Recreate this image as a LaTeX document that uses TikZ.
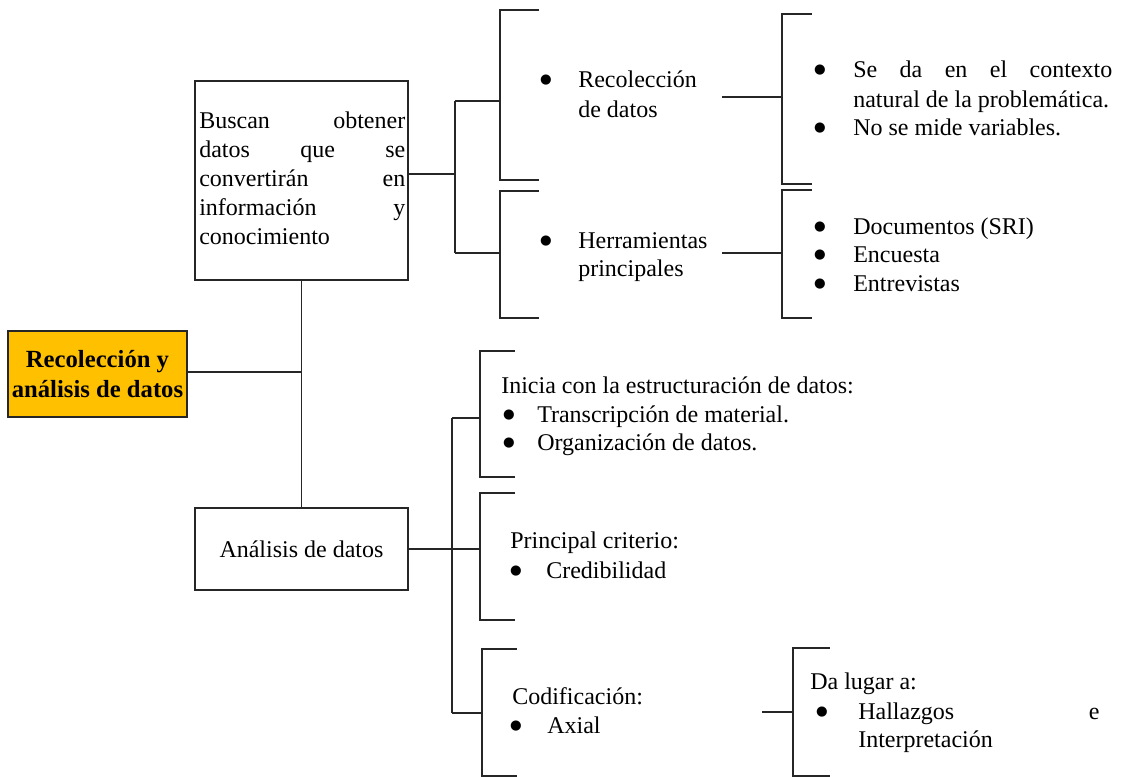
\documentclass[tikz,border=0pt]{standalone}
\usepackage{fontspec}
\setmainfont{Liberation Serif}
\newfontfamily\dotfont{DejaVu Sans}
\newcommand\bigdot{\raisebox{3pt}{\dotfont\fontsize{10}{12}\selectfont ●}}
\begin{document}
\begin{tikzpicture}[x=0.75pt,y=-0.75pt,
  line/.style={draw=black!85,line width=0.9pt},
  txt/.style={font=\fontsize{18}{21}\selectfont,inner sep=0pt,anchor=base west},
  bul/.style={txt,anchor=base},
  box/.style={draw=black!85,line width=0.9pt,inner sep=0pt,font=\fontsize{18}{21}\selectfont}]
\useasboundingbox (0,0) rectangle (1123,776);
% main title box
\node[box,fill={rgb,255:red,255;green,192;blue,0},minimum width=134.25pt,minimum height=64.5pt,
  font=\fontsize{18.5}{22.5}\selectfont\bfseries,align=center] (title) at (97.5,374) {Recolección y\\análisis de datos};
% upper description box
\node[box,minimum width=159.75pt,minimum height=149.25pt] (top) at (301.5,180.5) {};
\foreach \n/\y/\a/\b in {t1/128/Buscan/obtener,t3/186/convertirán/en,t4/215/información/y}
  \node[txt] (\n) at (199,\y) {\makebox[154.5pt][l]{\a\hfill\b}};
\node[txt] (t2) at (199,157) {\makebox[154.5pt][l]{datos\hfill que\hfill se}};
\node[txt] (t5) at (199,244) {conocimiento};
% lower description box
\node[box,minimum width=159.75pt,minimum height=61.5pt] (bot) at (301.5,549) {Análisis de datos};

% trunk
\coordinate (trunk) at (301.5,372);
\draw[line] (title.east |- trunk) -- (trunk);
\draw[line] (top.south) -- (bot.north);

% ---- upper branch ----
\coordinate (topout) at (top.east |- 0,174);
\coordinate (fork1) at (455,174);
\draw[line] (topout) -- (fork1);
\draw[line] (455,101) -- (455,253);
\draw[line] (455,101) -- (500,101);
\draw[line] (455,253) -- (500,253);
% brackets
\draw[line] (539,10) -- (500,10) -- (500,180) -- (539,180);
\draw[line] (539,191) -- (500,191) -- (500,318) -- (539,318);
\draw[line] (812,14) -- (782,14) -- (782,184) -- (812,184);
\draw[line] (812,190) -- (782,190) -- (782,318) -- (812,318);
\draw[line] (722,97) -- (782,97);
\draw[line] (722,253) -- (782,253);

\node[bul] (b1) at (546,87) {\bigdot};
\node[txt] (r1) at (578,87) {Recolección};
\node[txt] (r2) at (578,117) {de datos};
\node[bul] (b2) at (546,248) {\bigdot};
\node[txt] (h1) at (578,248) {Herramientas};
\node[txt] (h2) at (578,276) {principales};

\node[bul] (b3) at (820,77) {\bigdot};
\node[txt] (s1) at (853,77) {\makebox[194.25pt][l]{Se\hfill da\hfill en\hfill el\hfill contexto}};
\node[txt] (s2) at (853,107) {natural de la problemática.};
\node[bul] (b4) at (820,135) {\bigdot};
\node[txt] (s3) at (853,135) {No se mide variables.};
\node[bul] (b5) at (820,234) {\bigdot};
\node[txt] (d1) at (853,234) {Documentos (SRI)};
\node[bul] (b6) at (820,262) {\bigdot};
\node[txt] (d2) at (853,262) {Encuesta};
\node[bul] (b7) at (820,291) {\bigdot};
\node[txt] (d3) at (853,291) {Entrevistas};

% ---- lower branch ----
\draw[line] (bot.east) -- (480,549);
\draw[line] (452,418) -- (452,713);
\draw[line] (452,418) -- (480,418);
\draw[line] (452,713) -- (482,713);
\draw[line] (515,351) -- (480,351) -- (480,477) -- (515,477);
\draw[line] (515,493) -- (480,493) -- (480,620) -- (515,620);
\draw[line] (517,649) -- (482,649) -- (482,776) -- (517,776);
\draw[line] (830,648) -- (793,648) -- (793,776) -- (830,776);
\draw[line] (762,712) -- (793,712);

\node[txt] (i0) at (501,393) {Inicia con la estructuración de datos:};
\node[bul] (b8) at (509,422) {\bigdot};
\node[txt] (i1) at (537,422) {Transcripción de material.};
\node[bul] (b9) at (509,450) {\bigdot};
\node[txt] (i2) at (537,450) {Organización de datos.};

\node[txt] (p0) at (510,548) {Principal criterio:};
\node[bul] (b10) at (516,578) {\bigdot};
\node[txt] (p1) at (546,578) {Credibilidad};

\node[txt] (c0) at (512,704) {Codificación:};
\node[bul] (b11) at (516,733) {\bigdot};
\node[txt] (c1) at (547,733) {Axial};

\node[txt] (g0) at (810,689) {Da lugar a:};
\node[bul] (b12) at (822,719) {\bigdot};
\node[txt] (g1) at (858,719) {\makebox[181pt][l]{Hallazgos\hfill e}};
\node[txt] (g2) at (858,747) {Interpretación};
\end{tikzpicture}
\end{document}
